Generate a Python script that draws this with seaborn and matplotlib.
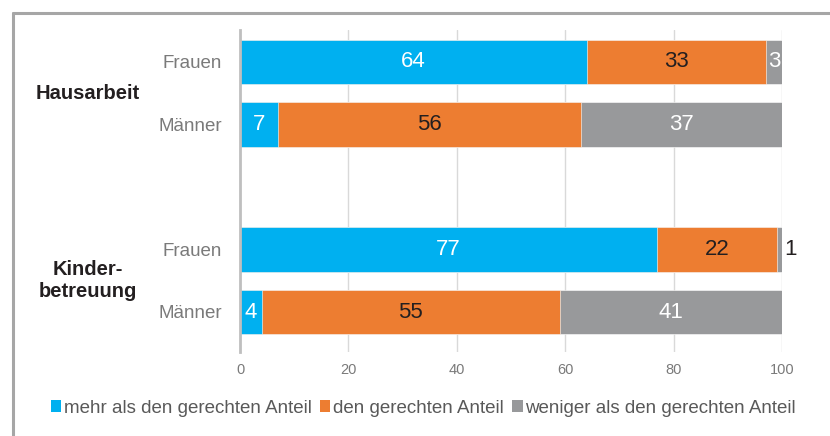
import numpy as np
import pandas as pd
import matplotlib.pyplot as plt
import seaborn as sns
from matplotlib.patches import Patch
from matplotlib.lines import Line2D
from matplotlib.transforms import blended_transform_factory

# data
groups = ['Hausarbeit', 'Kinder-\nbetreuung']
rows = ['Frauen', 'Männer', 'Frauen', 'Männer']
row_group = [0, 0, 1, 1]
mehr = [64, 7, 77, 4]
gerecht = [33, 56, 22, 55]
weniger = [3, 37, 1, 41]
series_names = ['mehr als den gerechten Anteil', 'den gerechten Anteil',
                'weniger als den gerechten Anteil']
x_ticks = [0, 20, 40, 60, 80, 100]

colors = ['#00b0f0', '#ed7d31', '#98999b']
text_colors = ['white', '#231f20', 'white']

sns.set_style('white')
plt.rcParams['font.family'] = ['Liberation Sans', 'DejaVu Sans']

df = pd.DataFrame({'row': rows, 'group': row_group,
                   'mehr': mehr, 'gerecht': gerecht, 'weniger': weniger})
# position: two bars per group, one empty slot between groups
df['pos'] = df['group'] * 3 + df.groupby('group').cumcount()
df['c1'] = df['mehr']
df['c2'] = df['mehr'] + df['gerecht']
df['c3'] = df['c2'] + df['weniger']

fig = plt.figure(figsize=(8.3, 4.36), dpi=100)
ax = fig.add_axes([240 / 830, 1 - 352 / 436, 542 / 830, 322 / 436])

# stacked bars: draw cumulative totals back to front
for col, color in zip(['c3', 'c2', 'c1'], colors[::-1]):
    sns.barplot(data=df, x=col, y='pos', orient='y', native_scale=True,
                color=color, saturation=1, errorbar=None, width=0.71,
                edgecolor='white', linewidth=0.4, ax=ax)

ax.set_xlim(0, 100)
ax.set_ylim(4.64, -0.512)
ax.set_xticks(x_ticks)
ax.set_yticks(df['pos'])
ax.set_yticklabels(df['row'])
ax.set_xlabel('')
ax.set_ylabel('')
ax.tick_params(axis='y', length=0, pad=13, labelsize=13.5, labelcolor='#7a7a7a')
ax.tick_params(axis='x', length=0, pad=8, labelsize=10.5, labelcolor='#7a7a7a')
ax.xaxis.grid(True, color='#d9d9d9', linewidth=1)
ax.set_axisbelow(True)
for s in ['top', 'right', 'bottom']:
    ax.spines[s].set_visible(False)
ax.spines['left'].set_color('#bfbfbf')
ax.spines['left'].set_linewidth(2)

# value labels
for _, r in df.iterrows():
    starts = [0, r['c1'], r['c2']]
    vals = [r['mehr'], r['gerecht'], r['weniger']]
    for i, (s, v) in enumerate(zip(starts, vals)):
        if v >= 2:
            ax.text(s + v / 2, r['pos'], str(v), ha='center', va='center',
                    fontsize=16, color=text_colors[i])
        elif v > 0:
            ax.text(100.4, r['pos'], str(v), ha='left', va='center',
                    fontsize=16, color='#231f20', clip_on=False)

# group labels
trans = blended_transform_factory(ax.transAxes, ax.transData)
for g, name in enumerate(groups):
    y = df.loc[df['group'] == g, 'pos'].mean()
    ax.text((88 - 240) / 542, y, name, transform=trans, ha='center',
            va='center', fontsize=14.5, fontweight='bold', color='#231f20',
            linespacing=1.2)

# legend
handles = [Patch(facecolor=c, edgecolor='none') for c in colors]
fig.legend(handles, series_names, loc='center', bbox_to_anchor=(0.51, 1 - 408 / 436),
           ncol=3, frameon=False, fontsize=13.5, handlelength=0.55, handleheight=0.55,
           handletextpad=0.15, columnspacing=0.45, labelcolor='#595959')

# outer frame (left and top edges)
fig.add_artist(Line2D([13 / 830, 13 / 830], [0, 1 - 13 / 436], color='#a6a6a6', lw=2.2))
fig.add_artist(Line2D([13 / 830, 1], [1 - 13 / 436, 1 - 13 / 436], color='#a6a6a6', lw=2.2))

fig.savefig('out.png', dpi=100)
